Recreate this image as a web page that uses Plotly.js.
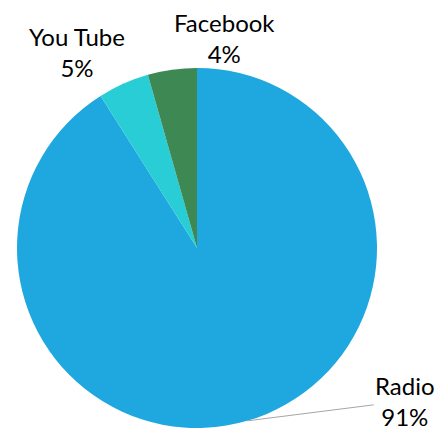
<!DOCTYPE html>
<html>
<head>
<meta charset="utf-8">
<script src="https://cdn.plot.ly/plotly-3.0.1.min.js"></script>
<style>html,body{margin:0;padding:0;background:#fff;}#chart{width:438px;height:431px;}</style>
</head>
<body>
<div id="chart"></div>
<script>
// slices listed clockwise from 12 o'clock
const labels = ["Radio", "You Tube", "Facebook"];
const values = [91.0, 4.6, 4.4];
const colors = ["#1FA8DF", "#29CDD6", "#3E8953"];

const W = 438, H = 431;
const cxPx = 197, cyPx = 248, rPx = 180;
const total = values.reduce((a, b) => a + b, 0);

// label offsets (px) relative to slice mid-edge
const offsets = [
  {ax: 158, ay: -20, arrow: true},
  {ax: -46, ay: -32, arrow: true},
  {ax: 52, ay: -32, arrow: false}
];

let cum = 0;
const annotations = labels.map((lab, i) => {
  const mid = (cum + values[i] / 2) / total;
  cum += values[i];
  const theta = mid * 2 * Math.PI; // clockwise from top
  const ex = cxPx + rPx * Math.sin(theta);
  const ey = cyPx - rPx * Math.cos(theta);
  const pct = Math.round(values[i] / total * 100) + "%";
  return {
    x: ex / W, y: 1 - ey / H, xref: "paper", yref: "paper",
    text: lab + "<br>" + pct,
    showarrow: true,
    arrowhead: 0, arrowwidth: 1,
    arrowcolor: offsets[i].arrow ? "#A6A6A6" : "rgba(0,0,0,0)",
    ax: offsets[i].ax, ay: offsets[i].ay,
    standoff: 0,
    font: {family: "Lato, 'Open Sans', sans-serif", size: 24, color: "#000"},
    align: "center"
  };
});

const data = [{
  type: "pie",
  labels: labels,
  values: values,
  sort: false,
  direction: "clockwise",
  rotation: 0,
  marker: {colors: colors, line: {width: 0}},
  textinfo: "none",
  hoverinfo: "none",
  domain: {x: [(cxPx - rPx) / W, (cxPx + rPx) / W], y: [1 - (cyPx + rPx) / H, 1 - (cyPx - rPx) / H]}
}];

const layout = {
  width: W, height: H,
  margin: {l: 0, r: 0, t: 0, b: 0},
  paper_bgcolor: "#fff",
  showlegend: false,
  annotations: annotations
};

Plotly.newPlot("chart", data, layout, {displayModeBar: false, staticPlot: true});
</script>
</body>
</html>
